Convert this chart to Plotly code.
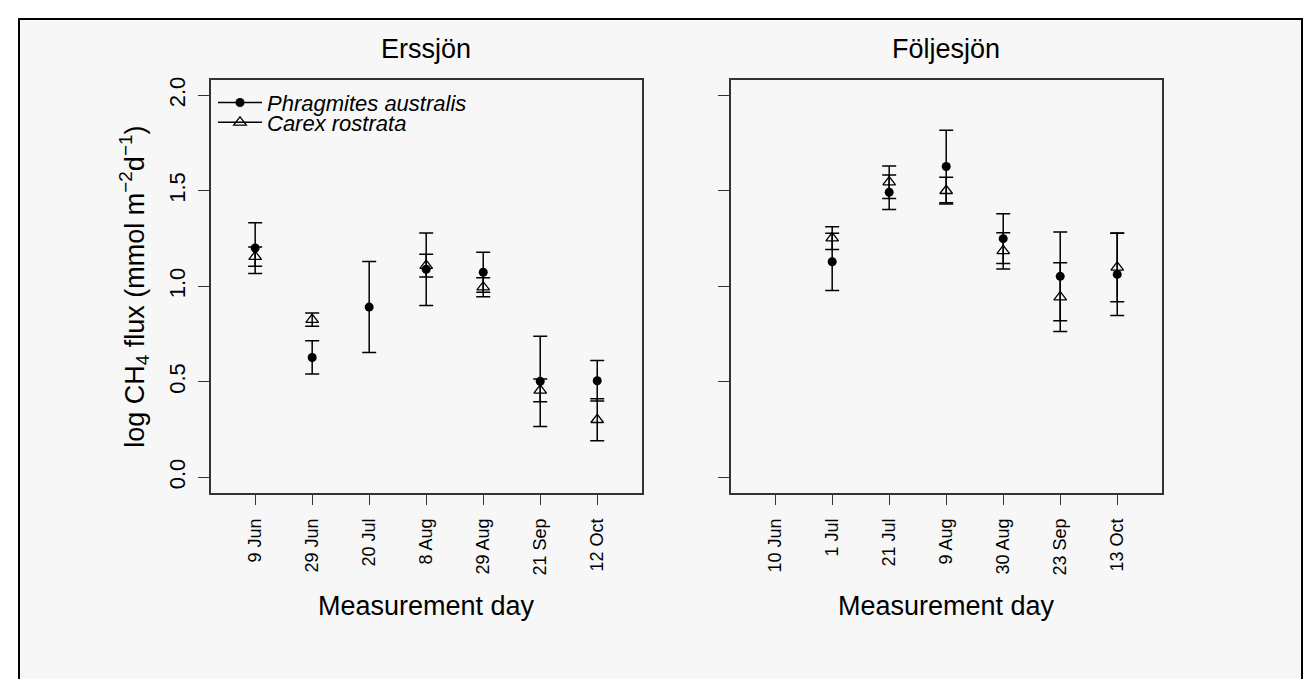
import plotly.graph_objects as go

# ---------------- data ----------------
days_ers = ["9 Jun", "29 Jun", "20 Jul", "8 Aug", "29 Aug", "21 Sep", "12 Oct"]
phrag_ers = [1.200, 0.627, 0.891, 1.089, 1.073, 0.502, 0.505]
phrag_ers_se = [0.133, 0.087, 0.238, 0.190, 0.105, 0.236, 0.106]
carex_ers = [1.155, 0.825, None, 1.108, 0.995, 0.455, 0.301]
carex_ers_se = [0.050, 0.035, None, 0.060, 0.050, 0.060, 0.110]

days_fol = ["10 Jun", "1 Jul", "21 Jul", "9 Aug", "30 Aug", "23 Sep", "13 Oct"]
phrag_fol = [None, 1.128, 1.492, 1.627, 1.249, 1.052, 1.062]
phrag_fol_se = [None, 0.150, 0.090, 0.190, 0.130, 0.232, 0.215]
carex_fol = [None, 1.252, 1.545, 1.500, 1.185, 0.943, 1.099]
carex_fol_se = [None, 0.060, 0.085, 0.070, 0.095, 0.180, 0.180]

y_ticks = [0.0, 0.5, 1.0, 1.5, 2.0]
y_ticktext = ["0.0", "0.5", "1.0", "1.5", "2.0"]

species = ["Phragmites australis", "Carex rostrata"]

# ---------------- layout helpers ----------------
W, H = 1308, 679
FONT = "Liberation Sans, Arial, Helvetica, sans-serif"


def px_x(v):
    return v / W


def px_y(v):
    return (H - v) / H


fig = go.Figure()

err_style = dict(type="data", visible=True, color="black", thickness=1.5, width=7)
phr_marker = dict(symbol="circle", size=9, color="black")
car_marker = dict(symbol="triangle-up-open", size=11, color="black",
                  line=dict(width=1.3, color="black"))

# Erssjön panel
fig.add_trace(go.Scatter(x=days_ers, y=phrag_ers, mode="markers", marker=phr_marker,
                         error_y=dict(array=phrag_ers_se, **err_style),
                         xaxis="x", yaxis="y", showlegend=False, name=species[0]))
fig.add_trace(go.Scatter(x=days_ers, y=carex_ers, mode="markers", marker=car_marker,
                         error_y=dict(array=carex_ers_se, **err_style),
                         xaxis="x", yaxis="y", showlegend=False, name=species[1]))
# Följesjön panel
fig.add_trace(go.Scatter(x=days_fol, y=phrag_fol, mode="markers", marker=phr_marker,
                         error_y=dict(array=phrag_fol_se, **err_style),
                         xaxis="x2", yaxis="y2", showlegend=False, name=species[0]))
fig.add_trace(go.Scatter(x=days_fol, y=carex_fol, mode="markers", marker=car_marker,
                         error_y=dict(array=carex_fol_se, **err_style),
                         xaxis="x2", yaxis="y2", showlegend=False, name=species[1]))

# legend entries (line + symbol, like R legend)
fig.add_trace(go.Scatter(x=[None], y=[None], mode="lines+markers", marker=phr_marker,
                         line=dict(color="black", width=1.5),
                         name="<i>" + species[0] + "</i>", legend="legend",
                         xaxis="x", yaxis="y"))
fig.add_trace(go.Scatter(x=[None], y=[None], mode="lines+markers", marker=car_marker,
                         line=dict(color="black", width=1.5),
                         name="<i>" + species[1] + "</i>", legend="legend2",
                         xaxis="x", yaxis="y"))

axis_common = dict(showgrid=False, zeroline=False, showline=True, linecolor="#333333",
                   linewidth=1.5, mirror=True, ticks="outside", ticklen=11,
                   tickwidth=1.3, tickcolor="#333333")

ydom = [px_y(491.7), px_y(77.3)]

fig.update_layout(
    width=W, height=H, autosize=False,
    margin=dict(l=0, r=0, t=0, b=0),
    paper_bgcolor="white", plot_bgcolor="rgba(0,0,0,0)",
    font=dict(family=FONT, color="black"),
    xaxis=dict(domain=[px_x(210.7), px_x(641.7)], range=[-0.78, 6.78],
               type="category", categoryorder="array", categoryarray=days_ers,
               tickangle=-90, tickfont=dict(size=18), ticklabelstandoff=6,
               anchor="y", **axis_common),
    yaxis=dict(domain=ydom, range=[-0.08, 2.08], tickvals=y_ticks, ticktext=y_ticktext,
               tickangle=-90, tickfont=dict(size=22), ticklabelstandoff=4,
               anchor="x", **axis_common),
    xaxis2=dict(domain=[px_x(730.7), px_x(1161.7)], range=[-0.78, 6.78],
                type="category", categoryorder="array", categoryarray=days_fol,
                tickangle=-90, tickfont=dict(size=18), ticklabelstandoff=6,
                anchor="y2", **axis_common),
    yaxis2=dict(domain=ydom, range=[-0.08, 2.08], tickvals=y_ticks,
                showticklabels=False, anchor="x2", **axis_common),
    legend=dict(x=px_x(213), y=px_y(79), xanchor="left", yanchor="top",
                bgcolor="rgba(0,0,0,0)", font=dict(size=22, family=FONT),
                itemwidth=44, borderwidth=0),
    legend2=dict(x=px_x(213), y=px_y(99.0), xanchor="left", yanchor="top",
                 bgcolor="rgba(0,0,0,0)", font=dict(size=22, family=FONT),
                 itemwidth=44, borderwidth=0),
)

# outer frame with grey background
fig.add_shape(type="rect", xref="paper", yref="paper",
              x0=px_x(19), x1=px_x(1302), y0=-0.05, y1=px_y(16),
              fillcolor="#f7f7f7", line=dict(color="black", width=2), layer="below")

# titles
ann = dict(xref="paper", yref="paper", showarrow=False, font=dict(size=27, family=FONT))
fig.add_annotation(x=px_x(426.2), y=px_y(46), text="Erssjön", xanchor="center",
                   yanchor="middle", **ann)
fig.add_annotation(x=px_x(946.2), y=px_y(46), text="Följesjön", xanchor="center",
                   yanchor="middle", **ann)
fig.add_annotation(x=px_x(426.2), y=px_y(606), text="Measurement day", xanchor="center",
                   yanchor="middle", **ann)
fig.add_annotation(x=px_x(946.2), y=px_y(606), text="Measurement day", xanchor="center",
                   yanchor="middle", **ann)
fig.add_annotation(x=px_x(134), y=px_y(285),
                   text="log CH<sub>4</sub> flux (mmol m<sup>−2</sup>d<sup>−1</sup>)",
                   textangle=-90, xanchor="center", yanchor="middle", **ann)

fig.write_html("out.html",
               config={"displayModeBar": False},
               post_script="document.body.style.margin='0';"
                           "document.body.style.overflow='hidden';")
